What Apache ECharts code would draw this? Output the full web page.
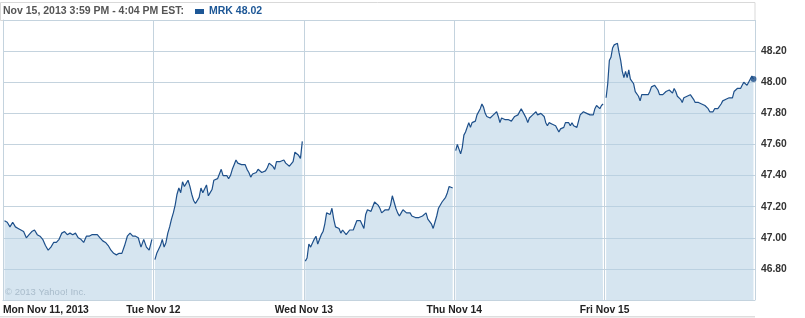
<!DOCTYPE html>
<html>
<head>
<meta charset="utf-8">
<script src="https://cdn.jsdelivr.net/npm/echarts@6/dist/echarts.min.js"></script>
<style>
html,body{margin:0;padding:0;background:#fff;}
#chart{width:805px;height:318px;}
</style>
</head>
<body>
<div id="chart"></div>
<script>
// ---- data ----
const dayLabels = ['Mon Nov 11, 2013', 'Tue Nov 12', 'Wed Nov 13', 'Thu Nov 14', 'Fri Nov 15'];
const yTickLabels = ['46.80', '47.00', '47.20', '47.40', '47.60', '47.80', '48.00', '48.20'];
const headerText = 'Nov 15, 2013 3:59 PM - 4:04 PM EST:';
const legendText = 'MRK 48.02';
const copyrightText = '\u00A9 2013 Yahoo! Inc.';

const mon = [47.11, 47.10, 47.07, 47.10, 47.07, 47.06, 47.05, 47.04, 47.00, 47.02, 47.04, 47.05, 47.02, 47.01, 46.99,
  46.95, 46.92, 46.94, 46.97, 46.97, 46.99, 47.03, 47.04, 47.02, 47.03, 47.02, 47.03, 47.00, 46.99, 46.97, 47.01,
  47.01, 47.02, 47.02, 47.02, 47.00, 46.98, 46.97, 46.95, 46.92, 46.90, 46.89, 46.90, 46.90, 46.95, 47.01, 47.03,
  47.01, 47.01, 47.00, 46.94, 46.99, 46.94, 46.92, 46.99];
const tue = [46.86, 46.90, 46.90, 46.95, 46.99, 46.94, 46.97, 47.03, 47.07, 47.12, 47.16, 47.21, 47.28, 47.32, 47.29,
  47.36, 47.33, 47.35, 47.37, 47.33, 47.28, 47.24, 47.22, 47.21, 47.26, 47.32, 47.29, 47.30, 47.34, 47.27, 47.29,
  47.31, 47.37, 47.38, 47.38, 47.39, 47.44, 47.40, 47.40, 47.40, 47.38, 47.40, 47.44, 47.47, 47.50, 47.48, 47.48,
  47.47, 47.48, 47.47, 47.44, 47.42, 47.39, 47.41, 47.40, 47.42, 47.44, 47.44, 47.42, 47.42, 47.43, 47.45, 47.48,
  47.48, 47.46, 47.44, 47.49, 47.48, 47.49, 47.49, 47.50, 47.48, 47.47, 47.46, 47.47, 47.49, 47.55, 47.56, 47.53,
  47.51, 47.62];
const wed = [46.85, 46.87, 46.96, 46.94, 46.95, 46.99, 47.01, 46.96, 46.99, 47.02, 47.04, 47.09, 47.16, 47.17, 47.15,
  47.19, 47.12, 47.07, 47.07, 47.06, 47.03, 47.05, 47.04, 47.02, 47.01, 47.05, 47.06, 47.05, 47.06, 47.11, 47.11,
  47.11, 47.10, 47.06, 47.15, 47.18, 47.19, 47.17, 47.17, 47.23, 47.23, 47.21, 47.19, 47.16, 47.17, 47.18, 47.18,
  47.18, 47.21, 47.27, 47.26, 47.19, 47.16, 47.14, 47.16, 47.18, 47.19, 47.16, 47.17, 47.16, 47.14, 47.14, 47.13,
  47.14, 47.13, 47.14, 47.14, 47.14, 47.16, 47.12, 47.11, 47.09, 47.06, 47.10, 47.14, 47.19, 47.19, 47.23, 47.24,
  47.26, 47.29, 47.33, 47.34, 47.32];
const thu = [47.56, 47.60, 47.57, 47.54, 47.58, 47.66, 47.68, 47.68, 47.74, 47.71, 47.74, 47.75, 47.75, 47.79, 47.79,
  47.83, 47.86, 47.84, 47.80, 47.78, 47.77, 47.77, 47.78, 47.79, 47.80, 47.81, 47.78, 47.74, 47.77, 47.78, 47.76,
  47.76, 47.76, 47.75, 47.75, 47.74, 47.78, 47.79, 47.79, 47.80, 47.83, 47.82, 47.79, 47.77, 47.74, 47.77, 47.78,
  47.79, 47.80, 47.81, 47.79, 47.80, 47.80, 47.79, 47.78, 47.74, 47.72, 47.74, 47.74, 47.73, 47.74, 47.72, 47.71,
  47.68, 47.70, 47.71, 47.71, 47.74, 47.74, 47.74, 47.72, 47.74, 47.72, 47.73, 47.71, 47.75, 47.79, 47.80, 47.81,
  47.82, 47.80, 47.79, 47.79, 47.79, 47.79, 47.83, 47.85, 47.84, 47.83, 47.85, 47.86];
const fri = [47.90, 47.99, 48.14, 48.16, 48.22, 48.24, 48.23, 48.25, 48.19, 48.14, 48.07, 48.03, 48.07, 48.03, 48.08,
  48.02, 48.01, 47.99, 47.94, 47.94, 47.91, 47.88, 47.92, 47.93, 47.92, 47.91, 47.92, 47.94, 47.97, 47.97, 47.98,
  47.97, 47.95, 47.92, 47.92, 47.92, 47.93, 47.94, 47.95, 47.95, 47.95, 47.93, 47.96, 47.94, 47.91, 47.90, 47.89,
  47.87, 47.90, 47.90, 47.91, 47.92, 47.92, 47.91, 47.89, 47.87, 47.87, 47.87, 47.86, 47.86, 47.86, 47.85, 47.84,
  47.83, 47.81, 47.81, 47.81, 47.83, 47.83, 47.83, 47.84, 47.86, 47.88, 47.87, 47.89, 47.90, 47.90, 47.91, 47.90,
  47.94, 47.93, 47.96, 47.97, 47.96, 47.98, 48.00, 48.01, 47.98, 48.00, 48.01, 48.04, 48.02];
const dayData = [mon, tue, wed, thu, fri];

// ---- chart ----
const LINE = '#1d4f8a';
const chart = echarts.init(document.getElementById('chart'), null, {renderer: 'canvas'});
const FONT = '"Liberation Sans", Arial, sans-serif';

// position each session's samples across its trading day (time fraction of the day)
function sessionPoints(arr, d) {
  return arr.map((v, i) => [d + 0.01 + 0.98 * i / (arr.length - 1), v]);
}

const series = dayData.map((arr, d) => ({
  type: 'line',
  data: sessionPoints(arr, d),
  showSymbol: false,
  symbol: 'none',
  smooth: false,
  lineStyle: {color: LINE, width: 1.2},
  areaStyle: {color: 'rgba(180,207,228,0.55)', opacity: 1, origin: 'start'},
  silent: true,
  z: 2
}));
const lastPts = sessionPoints(fri, 4);
series.push({
  type: 'scatter',
  data: [lastPts[lastPts.length - 1]],
  symbol: 'circle',
  symbolSize: 6,
  itemStyle: {color: LINE},
  clip: true,
  silent: true,
  z: 3
});

const option = {
  animation: false,
  backgroundColor: '#ffffff',
  grid: {left: 0, right: 50, top: 20, bottom: 18, containLabel: false},
  xAxis: {
    type: 'value',
    min: 0, max: 5, interval: 1,
    axisLine: {show: true, lineStyle: {color: '#c4d3de', width: 1}},
    axisTick: {show: false},
    splitLine: {show: true, lineStyle: {color: '#c4d3de', width: 1}},
    axisLabel: {
      show: true,
      margin: 5,
      color: '#222',
      fontFamily: FONT,
      fontWeight: 'bold',
      fontSize: 10.3,
      alignMinLabel: 'left',
      formatter: v => (v >= 0 && v < dayLabels.length) ? dayLabels[Math.round(v)] : ''
    }
  },
  yAxis: {
    type: 'value',
    position: 'right',
    min: 46.6, max: 48.4, interval: 0.2,
    axisLine: {show: true, lineStyle: {color: '#c4d3de', width: 1}},
    axisTick: {show: false},
    splitLine: {show: true, lineStyle: {color: '#c4d3de', width: 1}},
    axisLabel: {
      show: true,
      margin: 6,
      color: '#333',
      fontFamily: FONT,
      fontWeight: 'bold',
      fontSize: 10.3,
      formatter: v => {
        const s = v.toFixed(2);
        return yTickLabels.indexOf(s) >= 0 ? s : '';
      }
    }
  },
  graphic: [
    {type: 'rect', shape: {x: 0.5, y: 2.5, width: 754.5, height: 18}, style: {fill: 'none', stroke: '#d9d9d9', lineWidth: 1}, z: 0, silent: true},
    {type: 'rect', shape: {x: 0, y: 316, width: 755, height: 1.5}, style: {fill: '#dedede'}, silent: true},
    {type: 'text', left: 3, top: 6, style: {text: headerText, fill: '#555', font: 'bold 10.5px ' + FONT}, silent: true},
    {type: 'rect', shape: {x: 195, y: 9, width: 9, height: 5}, style: {fill: '#1d5796'}, silent: true},
    {type: 'text', left: 209, top: 6, style: {text: legendText, fill: '#1d5796', font: 'bold 10.5px ' + FONT}, silent: true},
    {type: 'text', left: 5, top: 287, style: {text: copyrightText, fill: '#a9bccb', font: '9.5px ' + FONT}, z: 10, silent: true}
  ],
  series: series
};
chart.setOption(option);
</script>
</body>
</html>
